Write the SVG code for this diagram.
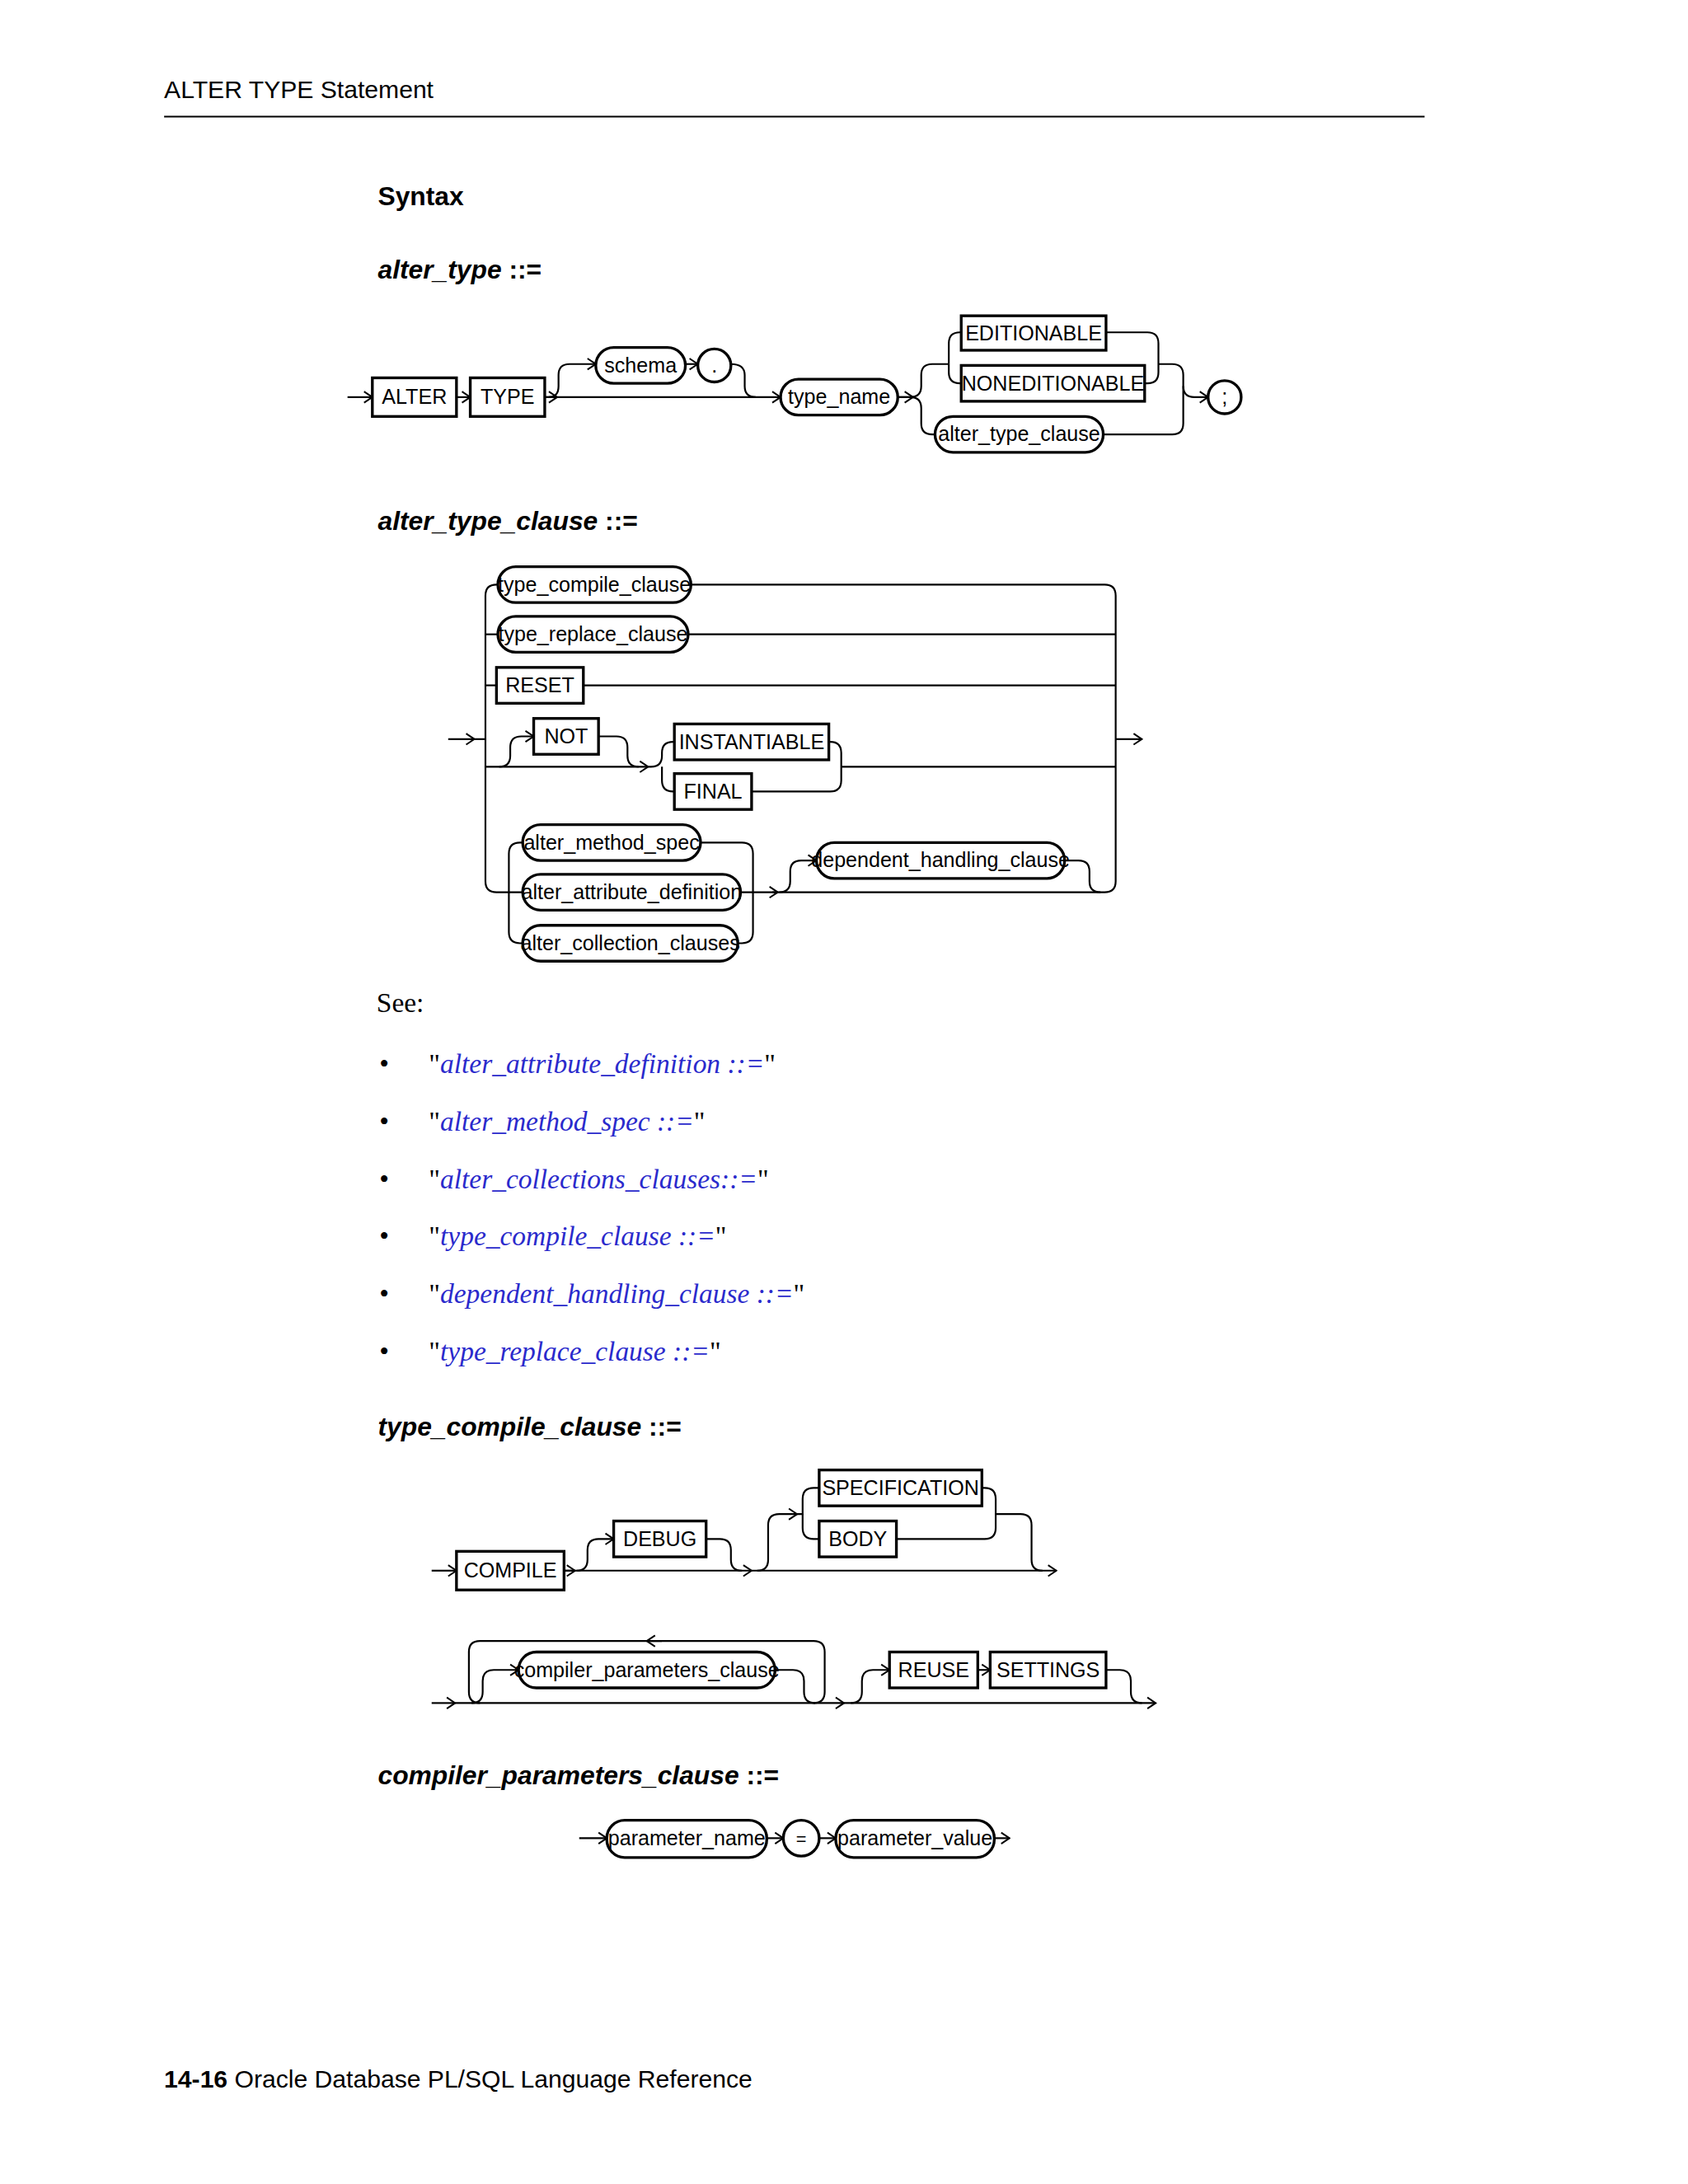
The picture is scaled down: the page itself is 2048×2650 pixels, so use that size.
<svg xmlns="http://www.w3.org/2000/svg" width="2048" height="2650" viewBox="0 0 2048 2650">
<style>
.b{fill:#fff;stroke:#000;stroke-width:2}
.p{fill:#fff;stroke:#000;stroke-width:2}
.c{fill:none;stroke:#000;stroke-width:1.3}
.t{font-family:"Liberation Sans Narrow","Liberation Sans",Arial,sans-serif;font-size:15px;text-anchor:middle}
.h{font-family:"Liberation Sans",Arial,sans-serif;font-weight:bold;font-style:italic;font-size:19px}
.s{font-family:"Liberation Serif","Times New Roman",serif;font-size:20px}
.l{fill:#2a2acc;font-style:italic}
</style>
<defs>
<marker id="a" viewBox="-1 -5 8 10" refX="6" refY="0" markerWidth="8" markerHeight="10" markerUnits="userSpaceOnUse" orient="auto">
<path d="M0,-4 L6,0 L0,4" fill="none" stroke="#000" stroke-width="1.2"/>
</marker>
</defs>
<rect width="2048" height="2650" fill="#fff"/>
<g transform="scale(1.6732)">
<g id="header">
<text x="119" y="71" style="font-family:'Liberation Sans Narrow','Liberation Sans',sans-serif;font-size:18px">ALTER TYPE Statement</text>
<line x1="119" y1="84.5" x2="1033" y2="84.5" stroke="#000" stroke-width="1.2"/>
<text x="274" y="149" style="font-family:'Liberation Sans',sans-serif;font-weight:bold;font-size:19px">Syntax</text>
<text x="274" y="202" class="h">alter_type <tspan font-style="normal">::=</tspan></text>
<text x="274" y="384" class="h">alter_type_clause <tspan font-style="normal">::=</tspan></text>
<text x="274" y="1041" class="h">type_compile_clause <tspan font-style="normal">::=</tspan></text>
<text x="274" y="1294" class="h">compiler_parameters_clause <tspan font-style="normal">::=</tspan></text>
</g>
<g id="connectors" class="c">
<!-- d1 -->
<path d="M252,288 H270" marker-end="url(#a)"/>
<path d="M331,288 H341" marker-end="url(#a)"/>
<path d="M395,288 H404" marker-end="url(#a)"/>
<path d="M395,288 H566" marker-end="url(#a)"/>
<path d="M398,288 Q405,288 405,280 V272 Q405,264 413,264 H432" marker-end="url(#a)"/>
<path d="M497,264 H506" marker-end="url(#a)"/>
<path d="M530,264 Q540,264 540,272 V280 Q540,288 548,288"/>
<path d="M651,288 H662" marker-end="url(#a)"/>
<path d="M651,288 H660 Q668,288 668,280 V272 Q668,264 676,264 H688"/>
<path d="M660,288 Q668,288 668,296 V307 Q668,315 676,315 H678"/>
<path d="M688,264 V249 Q688,241 696,241 H697"/>
<path d="M688,264 V270 Q688,278 696,278 H697"/>
<path d="M802,241 H832 Q840,241 840,249 V270 Q840,278 832,278 H830"/>
<path d="M840,264 H850 Q858,264 858,272 V307 Q858,315 850,315 H800"/>
<path d="M858,280 Q858,288 866,288 H876" marker-end="url(#a)"/>
<!-- d2 -->
<path d="M325,536 H344" marker-end="url(#a)"/>
<path d="M344,536 H352"/>
<path d="M361,424 H360 Q352,424 352,432 V639 Q352,647 360,647 H379"/>
<path d="M352,460 H361"/>
<path d="M352,497 H360"/>
<path d="M352,556 H470" marker-end="url(#a)"/>
<path d="M501,424 H801 Q809,424 809,432 V639 Q809,647 801,647 H560"/>
<path d="M499,460 H809"/>
<path d="M423,497 H809"/>
<path d="M610,556 H809"/>
<path d="M809,536 H828" marker-end="url(#a)"/>
<path d="M362,556 Q370,556 370,548 V542 Q370,534 378,534 H387" marker-end="url(#a)"/>
<path d="M434,534 H447 Q455,534 455,542 V548 Q455,556 463,556"/>
<path d="M470,556 H472 Q480,556 480,548 V546 Q480,538 488,538 H489"/>
<path d="M480,556 V566 Q480,574 488,574 H489"/>
<path d="M601,538 H602 Q610,538 610,546 V566 Q610,574 602,574 H545"/>
<path d="M379,611 H377 Q369,611 369,619 V676 Q369,684 377,684 H379"/>
<path d="M508,611 H538 Q546,611 546,619 V676 Q546,684 538,684 H535"/>
<path d="M537,647 H564" marker-end="url(#a)"/>
<path d="M565,647 Q573,647 573,639 V632 Q573,624 581,624 H592" marker-end="url(#a)"/>
<path d="M772,624 H782 Q790,624 790,632 V639 Q790,647 798,647"/>
<!-- d3 -->
<path d="M313,1139 H331" marker-end="url(#a)"/>
<path d="M409,1139 H417" marker-end="url(#a)"/>
<path d="M409,1139 H545" marker-end="url(#a)"/>
<path d="M545,1139 H766" marker-end="url(#a)"/>
<path d="M418,1139 Q426,1139 426,1131 V1124 Q426,1116 434,1116 H445" marker-end="url(#a)"/>
<path d="M512,1116 H522 Q530,1116 530,1124 V1131 Q530,1139 538,1139"/>
<path d="M549,1139 Q557,1139 557,1131 V1106 Q557,1098 565,1098 H578" marker-end="url(#a)"/>
<path d="M576,1098 H582 V1087 Q582,1079 590,1079 H594"/>
<path d="M582,1098 V1108 Q582,1116 590,1116 H594"/>
<path d="M712,1079 H714 Q722,1079 722,1087 V1108 Q722,1116 714,1116 H650"/>
<path d="M722,1098 H740 Q748,1098 748,1106 V1131 Q748,1139 756,1139"/>
<path d="M313,1235 H330" marker-end="url(#a)"/>
<path d="M330,1235 H612" marker-end="url(#a)"/>
<path d="M612,1235 H838" marker-end="url(#a)"/>
<path d="M590,1235 Q598,1235 598,1227 V1198 Q598,1190 590,1190 H348 Q340,1190 340,1198 V1227 Q340,1235 348,1235"/>
<path d="M480,1190 H469" marker-end="url(#a)"/>
<path d="M342,1235 Q350,1235 350,1227 V1219 Q350,1211 358,1211 H376" marker-end="url(#a)"/>
<path d="M562,1211 H575 Q583,1211 583,1219 V1227 Q583,1235 591,1235"/>
<path d="M617,1235 Q625,1235 625,1227 V1219 Q625,1211 633,1211 H645" marker-end="url(#a)"/>
<path d="M709,1211 H718" marker-end="url(#a)"/>
<path d="M802,1211 H812 Q820,1211 820,1219 V1227 Q820,1235 828,1235"/>
<!-- d4 -->
<path d="M420,1333 H440" marker-end="url(#a)"/>
<path d="M556,1333 H568" marker-end="url(#a)"/>
<path d="M594,1333 H606" marker-end="url(#a)"/>
<path d="M721,1333 H732" marker-end="url(#a)"/>
</g>
<g id="n_alter"><rect class="b" x="270" y="274" width="61" height="28"/><text class="t" x="300.5" y="293">ALTER</text></g>
<g id="n_type"><rect class="b" x="341" y="274" width="54" height="28"/><text class="t" x="368" y="293">TYPE</text></g>
<g id="n_schema"><rect class="p" x="432" y="252" width="65" height="26" rx="13"/><text class="t" x="464.5" y="270">schema</text></g>
<g id="n_dot"><circle class="p" cx="518" cy="265" r="12"/><text class="t" x="518" y="270">.</text></g>
<g id="n_typename"><rect class="p" x="566" y="275" width="85" height="26" rx="13"/><text class="t" x="608.5" y="293">type_name</text></g>
<g id="n_edit"><rect class="b" x="697" y="229" width="105" height="25"/><text class="t" x="749.5" y="247">EDITIONABLE</text></g>
<g id="n_nonedit"><rect class="b" x="697" y="265" width="133" height="26"/><text class="t" x="763.5" y="283">NONEDITIONABLE</text></g>
<g id="n_atc"><rect class="p" x="678" y="302" width="122" height="26" rx="13"/><text class="t" x="739" y="320">alter_type_clause</text></g>
<g id="n_semi"><circle class="p" cx="888" cy="288" r="12"/><text class="t" x="888" y="293">;</text></g>

<g id="n_tcc"><rect class="p" x="361" y="411" width="140" height="26" rx="13"/><text class="t" x="431" y="429">type_compile_clause</text></g>
<g id="n_trc"><rect class="p" x="361" y="447" width="138" height="26" rx="13"/><text class="t" x="430" y="465">type_replace_clause</text></g>
<g id="n_reset"><rect class="b" x="360" y="484" width="63" height="26"/><text class="t" x="391.5" y="502">RESET</text></g>
<g id="n_not"><rect class="b" x="387" y="521" width="47" height="26"/><text class="t" x="410.5" y="539">NOT</text></g>
<g id="n_inst"><rect class="b" x="489" y="525" width="112" height="26"/><text class="t" x="545" y="543">INSTANTIABLE</text></g>
<g id="n_final"><rect class="b" x="489" y="561" width="56" height="26"/><text class="t" x="517" y="579">FINAL</text></g>
<g id="n_ams"><rect class="p" x="379" y="598" width="129" height="26" rx="13"/><text class="t" x="443.5" y="616">alter_method_spec</text></g>
<g id="n_aad"><rect class="p" x="379" y="634" width="158" height="26" rx="13"/><text class="t" x="458" y="652">alter_attribute_definition</text></g>
<g id="n_acc"><rect class="p" x="379" y="671" width="156" height="26" rx="13"/><text class="t" x="457" y="689">alter_collection_clauses</text></g>
<g id="n_dhc"><rect class="p" x="592" y="611" width="180" height="26" rx="13"/><text class="t" x="682" y="629">dependent_handling_clause</text></g>

<g id="see">
<text x="273" y="734" class="s">See:</text>
<g class="s">
<text x="275" y="778">•</text><text x="311" y="778">"<tspan class="l">alter_attribute_definition ::=</tspan>"</text>
<text x="275" y="820">•</text><text x="311" y="820">"<tspan class="l">alter_method_spec ::=</tspan>"</text>
<text x="275" y="862">•</text><text x="311" y="862">"<tspan class="l">alter_collections_clauses::=</tspan>"</text>
<text x="275" y="903">•</text><text x="311" y="903">"<tspan class="l">type_compile_clause ::=</tspan>"</text>
<text x="275" y="945">•</text><text x="311" y="945">"<tspan class="l">dependent_handling_clause ::=</tspan>"</text>
<text x="275" y="987">•</text><text x="311" y="987">"<tspan class="l">type_replace_clause ::=</tspan>"</text>
</g>
</g>

<g id="n_compile"><rect class="b" x="331" y="1125" width="78" height="28"/><text class="t" x="370" y="1144">COMPILE</text></g>
<g id="n_debug"><rect class="b" x="445" y="1103" width="67" height="26"/><text class="t" x="478.5" y="1121">DEBUG</text></g>
<g id="n_spec"><rect class="b" x="594" y="1066" width="118" height="26"/><text class="t" x="653" y="1084">SPECIFICATION</text></g>
<g id="n_body"><rect class="b" x="594" y="1103" width="56" height="26"/><text class="t" x="622" y="1121">BODY</text></g>
<g id="n_cpc"><rect class="p" x="376" y="1198" width="186" height="26" rx="13"/><text class="t" x="469" y="1216">compiler_parameters_clause</text></g>
<g id="n_reuse"><rect class="b" x="645" y="1198" width="64" height="26"/><text class="t" x="677" y="1216">REUSE</text></g>
<g id="n_settings"><rect class="b" x="718" y="1198" width="84" height="26"/><text class="t" x="760" y="1216">SETTINGS</text></g>

<g id="n_pname"><rect class="p" x="440" y="1320" width="116" height="27" rx="13"/><text class="t" x="498" y="1338">parameter_name</text></g>
<g id="n_eq"><circle class="p" cx="581" cy="1333" r="13"/><text class="t" x="581" y="1338" style="font-size:13px">=</text></g>
<g id="n_pvalue"><rect class="p" x="606" y="1320" width="115" height="27" rx="13"/><text class="t" x="663.5" y="1338">parameter_value</text></g>

<g id="footer" style="font-family:'Liberation Sans',sans-serif;font-size:18px">
<text x="119" y="1514"><tspan font-weight="bold">14-16</tspan>  Oracle Database PL/SQL Language Reference</text>
</g>
</g>
</svg>
